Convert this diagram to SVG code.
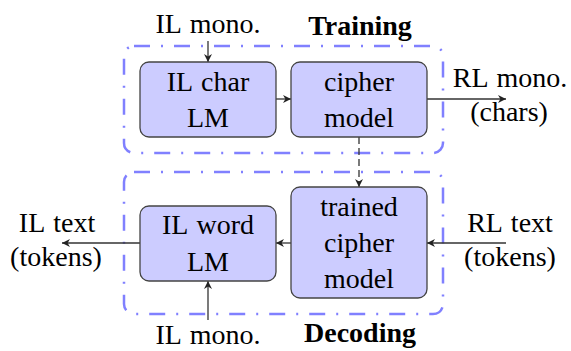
<svg xmlns="http://www.w3.org/2000/svg" width="571" height="351" viewBox="0 0 571 351">
  <defs>
    <marker id="arr" viewBox="0 0 10 10" refX="10" refY="5" markerWidth="8" markerHeight="8" markerUnits="userSpaceOnUse" orient="auto">
      <path d="M0,0 L10,5 L0,10 L3,5 Z" fill="#222"/>
    </marker>
  </defs>
  <style>
    .t { font-family: "Liberation Serif", "Times New Roman", serif; font-size: 28px; fill: #000; text-anchor: middle; word-spacing: 2px; }
    .b { font-weight: bold; }
    .frame { fill: none; stroke: #8080ff; stroke-width: 2.5; stroke-dasharray: 16 11 2 11; }
    .node { fill: #ccccff; stroke: #444; stroke-width: 1.3; }
    .c { fill: none; stroke: #333; stroke-width: 1.3; marker-end: url(#arr); }
    .d { stroke-dasharray: 7 4; }
  </style>
  <rect width="571" height="351" fill="#fff"/>

  <g id="training">
    <rect class="frame" x="124" y="46" width="319" height="107" rx="10"/>
    <text class="t b" x="360" y="35">Training</text>
  </g>
  <g id="decoding">
    <rect class="frame" x="124" y="172" width="319" height="142" rx="10"/>
    <text class="t b" x="360" y="342">Decoding</text>
  </g>

  <g id="connectors">
    <line class="c" x1="208" y1="41" x2="208" y2="62"/>
    <line class="c" x1="276" y1="99" x2="291" y2="99"/>
    <line class="c" x1="427" y1="99" x2="506" y2="99"/>
    <line class="c d" x1="359" y1="137" x2="359" y2="187"/>
    <line class="c" x1="506" y1="243" x2="427" y2="243"/>
    <line class="c" x1="291" y1="243" x2="276" y2="243"/>
    <line class="c" x1="140" y1="243" x2="62" y2="243"/>
    <line class="c" x1="208" y1="320" x2="208" y2="281"/>
  </g>

  <g id="il-char-lm">
    <rect class="node" x="140" y="62" width="136" height="75" rx="9"/>
    <text class="t" x="208" y="91">IL char</text>
    <text class="t" x="208" y="127">LM</text>
  </g>
  <g id="cipher-model">
    <rect class="node" x="291" y="62" width="136" height="75" rx="9"/>
    <text class="t" x="359" y="91">cipher</text>
    <text class="t" x="359" y="127">model</text>
  </g>
  <g id="il-word-lm">
    <rect class="node" x="140" y="206" width="136" height="75" rx="9"/>
    <text class="t" x="208" y="234">IL word</text>
    <text class="t" x="208" y="271">LM</text>
  </g>
  <g id="trained-cipher-model">
    <rect class="node" x="291" y="187" width="136" height="111" rx="9"/>
    <text class="t" x="359" y="216">trained</text>
    <text class="t" x="359" y="252">cipher</text>
    <text class="t" x="359" y="288">model</text>
  </g>

  <g id="il-mono-top">
    <text class="t" x="208" y="33">IL mono.</text>
  </g>
  <g id="rl-mono">
    <text class="t" x="510" y="87">RL mono.</text>
    <text class="t" x="509" y="121">(chars)</text>
  </g>
  <g id="il-text">
    <text class="t" x="57" y="232">IL text</text>
    <text class="t" x="56" y="266">(tokens)</text>
  </g>
  <g id="rl-text">
    <text class="t" x="510" y="232">RL text</text>
    <text class="t" x="510" y="266">(tokens)</text>
  </g>
  <g id="il-mono-bottom">
    <text class="t" x="208" y="344">IL mono.</text>
  </g>
</svg>
